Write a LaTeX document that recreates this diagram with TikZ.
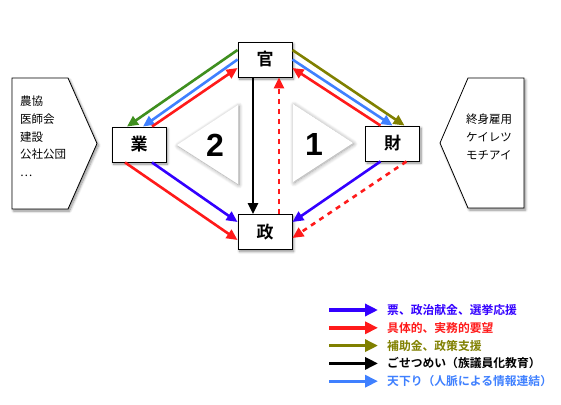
\documentclass[tikz,border=0pt]{standalone}
\usepackage{fontspec}
\newfontfamily\jp{Noto Sans CJK JP}[BoldFont={Noto Sans CJK JP Bold}]
\newfontfamily\digits{Liberation Sans}
\usepackage{xcolor}
\definecolor{Vote}{HTML}{3300FF}
\definecolor{Demand}{HTML}{FF1A1A}
\definecolor{Subsidy}{HTML}{808000}
\definecolor{Grant}{HTML}{3F8F1F}
\definecolor{Descent}{HTML}{3F80FF}
\usetikzlibrary{calc, arrows.meta, shadows.blur}
\tikzset{
	soft/.style={
		blur shadow={shadow xshift=1.5pt, shadow yshift=-2pt, shadow blur radius=2.5pt, shadow blur steps=8, shadow opacity=45}
	},
	actor/.style={
		draw,
		fill=white,
		line width=.9pt,
		minimum width=54pt,
		minimum height=35pt,
		inner sep=0pt,
		soft,
		font=\jp\bfseries\fontsize{17}{17}\selectfont
	},
	panel/.style={
		draw,
		fill=white,
		line width=.8pt,
		soft
	},
	members/.style={
		align=left,
		inner sep=0pt,
		font=\jp\fontsize{11.5}{17.7}\selectfont
	},
	wedge/.style={
		fill=white,
		blur shadow={shadow xshift=1pt, shadow yshift=-1pt, shadow blur radius=4pt, shadow blur steps=10, shadow opacity=40}
	},
	numeral/.style={
		font=\digits\bfseries\fontsize{32}{32}\selectfont
	},
	edge/.style={
		-{Triangle[length=11pt, width=10pt]},
		line width=2.6pt
	},
	loose edge/.style={
		edge,
		dash pattern=on 5pt off 5pt
	},
	key/.style={
		-{Triangle[length=13pt, width=12pt]},
		line width=3.4pt
	},
	keytext/.style={
		anchor=west,
		inner sep=0pt,
		font=\jp\bfseries\fontsize{11.8}{12}\selectfont
	}
}

\begin{document}
\begin{tikzpicture}[x=1pt, y=-1pt]
\useasboundingbox (0,0) rectangle (561,404);

% ---
% Side panels
% ---
\draw[panel] (12,78) -- (68,78) -- (97,143.5) -- (68,209) -- (12,209) -- cycle;
\node[members, anchor=north west] (industry) at (20,96) {農協\\医師会\\建設\\公社公団\\…};
\draw[panel] (440,143) -- (468,78) -- (524,78) -- (524,208) -- (468,208) -- cycle;
\node[members, anchor=north west] (business) at (466,114) {終身雇用\\ケイレツ\\モチアイ};

% ---
% Triangles
% ---
\fill[wedge] (177,145) -- (238,105) -- (238,184) -- cycle;
\fill[wedge] (353,143) -- (293,104) -- (293,182) -- cycle;
\node[numeral] (two) at (215,145) {2};
\node[numeral] (one) at (314,144) {1};

% ---
% Actors
% ---
\node[actor] (kan) at (265,59.5) {官};
\node[actor] (gyo) at (139,144.5) {業};
\node[actor] (zai) at (392.5,143.5) {財};
\node[actor] (sei) at (265,232) {政};

% ---
% Transitions
% ---
\draw[edge, Grant] ([yshift=9.5pt]kan.west) to ([xshift=-12pt]gyo.north);
\draw[edge, Descent] (kan.west) to ([xshift=4pt]gyo.north);
\draw[edge, Demand] ([xshift=13pt]gyo.north) to ([yshift=-8.5pt]kan.west);

\draw[edge, Subsidy] ([yshift=9.5pt]kan.east) to ([xshift=12pt]zai.north);
\draw[edge, Descent] (kan.east) to (zai.north);
\draw[edge, Demand] ([xshift=-12pt]zai.north) to ([yshift=-8.5pt]kan.east);

\draw[edge, Demand] ([xshift=-14pt]gyo.south) to ([yshift=-8pt]sei.west);
\draw[edge, Vote] ([xshift=13pt]gyo.south) to ([yshift=10pt]sei.west);

\draw[edge, Vote] ([xshift=-12pt]zai.south) to ([yshift=10pt]sei.east);
\draw[loose edge, Demand] ([xshift=14pt]zai.south) to ([yshift=-6pt]sei.east);

\draw[edge, black] ([xshift=-12pt]kan.south) to ([xshift=-12pt]sei.north);
\draw[loose edge, Demand] ([xshift=14pt]sei.north) to ([xshift=14pt]kan.south);

% ---
% Legend
% ---
\foreach \i/\c/\t in {0/Vote/{票、政治献金、選挙応援}, 1/Demand/{具体的、実務的要望}, 2/Subsidy/{補助金、政策支援}, 3/black/{ごせつめい（族議員化教育）}, 4/Descent/{天下り（人脈による情報連結）}} {
	\node[keytext, text=\c] (key-\i) at (387,310+17.8*\i) {\t};
	\coordinate (keystart-\i) at (329,310+17.8*\i);
	\draw[key, \c] (keystart-\i) to ([xshift=-9pt]key-\i.west);
}
\end{tikzpicture}
\end{document}
